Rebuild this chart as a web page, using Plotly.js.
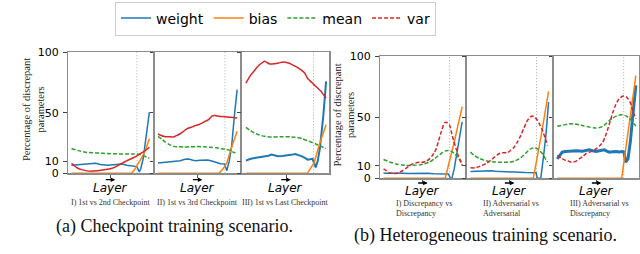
<!DOCTYPE html>
<html>
<head>
<meta charset="utf-8">
<script src="https://cdn.plot.ly/plotly-3.0.1.min.js"></script>
<style>html,body{margin:0;padding:0;background:#fff;}#chart{width:640px;height:254px;}</style>
</head>
<body>
<div id="chart"></div>
<script>
// ---------- DATA (percentage of discrepant parameters per layer) ----------
const seriesNames = ['weight', 'bias', 'mean', 'var'];
const yTickVals = [0, 10, 50, 100];
const yTickText = ['0', '10', '50', '100'];
const layerTickVals = [50];
const boundaries = [84, 84.6, 84.3, 84, 84.5, 84.5];

const panelLabels = [
  'I) 1st vs 2nd Checkpoint',
  'II) 1st vs 3rd Checkpoint',
  'III) 1st vs Last Checkpoint',
  'I) Discrepancy vs<br>Discrepancy',
  'II) Adversarial vs<br>Adversarial',
  'III) Adversarial vs<br>Discrepancy'
];
const captions = ['(a) Checkpoint training scenario.', '(b) Heterogeneous training scenario.'];
const yTitle = 'Percentage of discrepant<br>parameters';
const xTitle = 'Layer';

// (a) I) 1st vs 2nd checkpoint
const cp1_weight_x = [0, 7, 15, 24, 31, 37, 46, 54, 60, 65, 71, 77, 84, 87, 89, 92, 96, 100];
const cp1_weight_y = [6.6, 7.0, 7.1, 7.5, 8.3, 7.2, 6.6, 7.0, 7.5, 7.6, 6.6, 5.9, 5.5, 1.2, 4, 12, 31, 50.5];
const cp1_bias_x = [0, 77, 80, 84, 88, 92, 96, 100];
const cp1_bias_y = [0, 0, 2, 6, 11, 15, 21, 28.5];
const cp1_mean_x = [0, 10, 20, 30, 40, 50, 60, 70, 80, 88, 94, 100];
const cp1_mean_y = [20.3, 18.5, 17.2, 16.8, 16.5, 16.2, 16.0, 15.9, 16.0, 15.5, 14, 12.5];
const cp1_var_x = [0, 4, 8, 14, 20, 26, 33, 40, 46, 52, 57, 61, 66, 70, 75, 80, 85, 90, 95, 100];
const cp1_var_y = [8.2, 6, 4.2, 2.8, 2.0, 1.8, 2.2, 2.8, 3.4, 4.2, 5.5, 7, 8.6, 10, 11.5, 13, 14.8, 16.8, 18.8, 21.5];

// (a) II) 1st vs 3rd checkpoint
const cp2_weight_x = [0, 8, 15, 22, 28, 34, 39, 44, 48, 53, 58, 63, 69, 74, 79, 84, 87, 90, 93, 96.6, 100];
const cp2_weight_y = [8.5, 8.9, 9.3, 9.8, 10.4, 11.5, 11.8, 10.8, 10.4, 10.8, 11.2, 11.0, 9.9, 8.6, 7.9, 7.7, 2.2, 10, 22, 48, 69];
const cp2_bias_x = [0, 77, 82, 87, 92, 96, 100];
const cp2_bias_y = [0, 0, 3.5, 8.5, 19.5, 27, 34.6];
const cp2_mean_x = [0, 5, 9, 14, 20, 26, 32, 40, 50, 58, 67, 74, 80, 86, 92, 96, 100];
const cp2_mean_y = [30.5, 28, 25.8, 23.8, 22.2, 21.8, 21.7, 21.8, 22, 21.8, 21.4, 21, 20.3, 19.8, 18.7, 17.2, 15.9];
const cp2_var_x = [0, 4, 8, 14, 20, 24, 28, 32, 36, 40, 44, 48, 52, 56, 60, 64, 68, 72, 78, 84, 90, 95, 100];
const cp2_var_y = [32.4, 31.2, 30.4, 30.1, 30, 31.3, 32.6, 34.5, 36.5, 37.5, 38.5, 39.5, 40.2, 41.5, 43, 44.2, 47.2, 47.6, 46.8, 46.7, 46.3, 46.1, 45.6];

// (a) III) 1st vs last checkpoint
const cp3_weight_x = [0, 5, 10.6, 17, 23, 28, 32, 36, 40, 45, 51, 56, 61.7, 66, 70, 74, 77, 80, 83, 87, 89.5, 92.3, 96.6, 100];
const cp3_weight_y = [10.4, 11.8, 12.6, 13.2, 14, 14.5, 15.4, 14.6, 14, 14.2, 14.5, 15.2, 15.9, 15.0, 14, 12.5, 11.2, 11.5, 12, 4.9, 10, 20.8, 48, 75.8];
const cp3_bias_x = [0, 76.6, 80, 85, 91.5, 96, 100];
const cp3_bias_y = [0, 0, 3.5, 8.5, 23.6, 32, 40];
const cp3_mean_x = [0, 5, 10.6, 17, 23.4, 32, 40, 49, 56, 61.7, 70, 78.7, 87.2, 93.6, 100];
const cp3_mean_y = [37.9, 35.5, 33.2, 31.5, 30.5, 29.9, 30.1, 30.2, 30, 29.7, 28.6, 26.4, 24.2, 22.2, 20.3];
const cp3_var_x = [0, 6.4, 11, 15, 19, 23.4, 29.8, 36, 41, 46.8, 53, 57, 61.7, 66, 70, 73.5, 76.6, 80, 85, 89, 93.6, 97, 100];
const cp3_var_y = [74.4, 81.3, 85, 88.2, 90.5, 92.3, 90.1, 90.4, 91, 91.8, 90.9, 89.8, 88.2, 86.5, 84.6, 82.5, 78.6, 76.2, 73.1, 70.5, 67.6, 64.5, 62.1];

// (b) I) Discrepancy vs Discrepancy
const ht1_weight_x = [0, 8, 16, 24, 32, 40, 48, 56, 64, 72, 80, 82.5, 85, 87, 90, 93.3, 96, 100];
const ht1_weight_y = [4.0, 4.2, 3.9, 4.1, 3.8, 4.0, 3.8, 4.1, 3.7, 3.8, 3.6, 3.5, 0, 0, 8, 21.7, 32, 46];
const ht1_bias_x = [0, 78.4, 89, 100];
const ht1_bias_y = [0, 0, 27, 58.5];
const ht1_mean_x = [0, 8, 16, 24, 29, 36, 46, 52, 58.5, 64, 69, 74, 78, 82, 86, 90, 94.5, 100];
const ht1_mean_y = [15.3, 13.3, 11.7, 10.8, 10.4, 10.5, 10.9, 11.8, 13.1, 15.5, 18, 20.5, 22.2, 22.7, 22, 20.5, 17.2, 11.7];
const ht1_var_x = [0, 4, 7.6, 12, 16, 20, 24.6, 29, 33, 37, 41.5, 46, 50, 54, 58.5, 62, 65, 67, 70, 73.3, 76, 78, 81, 84, 86, 89, 92.4, 95, 98.7, 100];
const ht1_var_y = [7.7, 6, 4.4, 3.9, 3.8, 4.8, 6.3, 8.2, 10.4, 11.7, 12.6, 13.0, 13.1, 13.8, 15.8, 18.5, 21.5, 24, 30.5, 37.7, 43, 45.5, 45.4, 43.5, 38.5, 31, 24, 18.5, 13.1, 10.4];

// (b) II) Adversarial vs Adversarial
const ht2_weight_x = [0, 8, 19, 26, 32, 40, 49, 56, 62, 70, 77, 84, 85.5, 90, 93, 96.6, 100];
const ht2_weight_y = [5.5, 5.7, 6.3, 6.0, 5.7, 5.6, 5.5, 5.2, 4.9, 4.6, 4.4, 4.4, 0, 0, 15, 35, 62.3];
const ht2_bias_x = [0, 80.5, 90, 100];
const ht2_bias_y = [0, 0, 33, 71];
const ht2_mean_x = [0, 5, 10.7, 17, 23.6, 30, 36.5, 43, 49.4, 56, 62.2, 68, 73, 76, 79.4, 82.5, 85.8, 89, 92.3, 95.5, 98.7];
const ht2_mean_y = [21.3, 18.5, 16.4, 14.8, 13.7, 13.3, 13.1, 13.0, 13.1, 14, 15.8, 18.8, 21.9, 23.6, 24.6, 24.8, 24, 22.3, 20, 16.5, 13.1];
const ht2_var_x = [0, 6.4, 10, 15, 20, 25.8, 31, 36.5, 41, 47.2, 51, 55.8, 60, 64.4, 68, 73, 76, 79.4, 82.5, 85.8, 89, 92.3, 95.5, 98.7];
const ht2_var_y = [8.5, 8.5, 9.3, 10.4, 12, 14.5, 17.5, 20, 20.8, 20.8, 22.5, 25.4, 29.5, 35, 40.5, 47.3, 49.8, 50.8, 49.8, 47.3, 43.5, 39, 33, 26.8];

// (b) III) Adversarial vs Discrepancy
const ht3_weight_x = [0, 3, 6.4, 10, 15, 20, 25, 32, 36, 40.8, 45, 49.4, 55, 60, 63, 66.5, 70, 75, 79, 82.8, 85, 87, 90, 93, 95.7, 100];
const ht3_weight_y = [15.8, 18.8, 21.3, 21.8, 22.1, 21.8, 22.4, 22.1, 22.6, 23.2, 22.5, 21.9, 22.6, 23.2, 22.2, 21.3, 21.6, 21.9, 21.5, 21.9, 21.5, 13.1, 15.8, 30, 48.6, 76];
const ht3_bias_x = [0, 82, 91, 100];
const ht3_bias_y = [0, 0, 42, 84];
const ht3_mean_x = [0, 8, 15, 22, 28, 34, 40.8, 46, 49.4, 54, 58, 62, 66.5, 70, 75, 78, 81.5, 85, 88, 91, 94.4, 97, 100];
const ht3_mean_y = [42.6, 43.5, 44.5, 44.3, 43.7, 42.8, 41.8, 41.2, 41, 41.5, 42.6, 44.5, 47.3, 49, 50.8, 51.5, 51.9, 51.5, 50.8, 49.3, 47.3, 45, 42.6];
const ht3_var_x = [0, 5, 9, 12.9, 16, 19.3, 24, 28, 32, 36.5, 43, 49.4, 54, 58, 61, 64.4, 67.5, 70.8, 74, 77.3, 80.5, 83.7, 87, 90, 93.5, 96.6, 100];
const ht3_var_y = [18.6, 16.5, 15, 14.5, 13.5, 13.1, 14, 15.8, 17.5, 20, 21.8, 24, 26.5, 29.5, 34, 40.4, 47, 54, 59.5, 63.7, 66, 67.2, 66.8, 65, 61, 54, 48.6];

// ---------- STYLE / LAYOUT ----------
const W = 640, H = 254;
const colors = {weight: '#1f77b4', bias: '#ff7f0e', mean: '#2ca02c', var: '#d62728'};
const DASH = '4px,2px';
// var is drawn solid in the checkpoint panels, dashed in the heterogeneous ones
const varDash = ['solid', 'solid', 'solid', DASH, DASH, DASH];
const weightWidths = [1.5, 1.5, 2, 1.5, 1.5, 3];

const panelData = [
  [[cp1_weight_x, cp1_weight_y], [cp1_bias_x, cp1_bias_y], [cp1_mean_x, cp1_mean_y], [cp1_var_x, cp1_var_y]],
  [[cp2_weight_x, cp2_weight_y], [cp2_bias_x, cp2_bias_y], [cp2_mean_x, cp2_mean_y], [cp2_var_x, cp2_var_y]],
  [[cp3_weight_x, cp3_weight_y], [cp3_bias_x, cp3_bias_y], [cp3_mean_x, cp3_mean_y], [cp3_var_x, cp3_var_y]],
  [[ht1_weight_x, ht1_weight_y], [ht1_bias_x, ht1_bias_y], [ht1_mean_x, ht1_mean_y], [ht1_var_x, ht1_var_y]],
  [[ht2_weight_x, ht2_weight_y], [ht2_bias_x, ht2_bias_y], [ht2_mean_x, ht2_mean_y], [ht2_var_x, ht2_var_y]],
  [[ht3_weight_x, ht3_weight_y], [ht3_bias_x, ht3_bias_y], [ht3_mean_x, ht3_mean_y], [ht3_var_x, ht3_var_y]]
];

// panel pixel boxes [x0, x1, yTop, yBottom]
const boxes = [
  [68, 152.5, 52, 173.3], [154.5, 240.3, 52, 173.3], [242.3, 329.3, 52, 173.3],
  [380, 465.3, 56, 178.2], [467, 551.7, 56, 178.2], [553.7, 639, 56, 178.2]
];
const px = v => v / W, py = v => 1 - v / H;

const traces = [];
const layout = {
  width: W, height: H,
  margin: {l: 0, r: 0, t: 0, b: 0, pad: 0},
  paper_bgcolor: '#fff', plot_bgcolor: '#fff',
  font: {family: 'DejaVu Sans', size: 11, color: '#000'},
  showlegend: true,
  legend: {
    orientation: 'h', x: px(115), y: py(1.5), xanchor: 'left', yanchor: 'top',
    bgcolor: '#fff', bordercolor: '#cccccc', borderwidth: 1,
    font: {family: 'DejaVu Sans', size: 14, color: '#000'},
    itemwidth: 30, traceorder: 'normal'
  },
  shapes: [], annotations: []
};

panelData.forEach((series, i) => {
  const n = i + 1;
  const xk = n === 1 ? 'x' : 'x' + n;
  const yk = n === 1 ? 'y' : 'y' + n;
  const b = boxes[i];
  series.forEach((s, j) => {
    const name = seriesNames[j];
    const smooth = (name === 'mean' || name === 'var');
    const dash = name === 'mean' ? DASH : (name === 'var' ? varDash[i] : 'solid');
    traces.push({
      type: 'scatter', mode: 'lines', x: s[0], y: s[1], name: name,
      xaxis: xk, yaxis: yk, legendgroup: name, showlegend: false,
      line: {color: colors[name], dash: dash,
             width: name === 'weight' ? weightWidths[i] : 1.5,
             shape: smooth ? 'spline' : 'linear', smoothing: 0.6},
      hoverinfo: 'skip'
    });
  });
  const firstInGroup = (i === 0 || i === 3);
  layout['xaxis' + (n === 1 ? '' : n)] = {
    domain: [px(b[0]), px(b[1])], anchor: yk, range: [-4.5, 104],
    showline: true, mirror: true, linecolor: '#8c8c8c', linewidth: 1.5,
    showgrid: false, zeroline: false, ticks: 'outside', ticklen: 3, tickwidth: 1,
    tickcolor: '#555', tickvals: layerTickVals, showticklabels: false, fixedrange: true
  };
  layout['yaxis' + (n === 1 ? '' : n)] = {
    domain: [py(b[3]), py(b[2])], anchor: xk, range: [0, 100],
    showline: true, mirror: true, linecolor: '#8c8c8c', linewidth: 1.5,
    showgrid: false, zeroline: false, ticks: 'outside', ticklen: 3.5, tickwidth: 1,
    tickcolor: '#444', tickvals: yTickVals, ticktext: yTickText,
    showticklabels: firstInGroup, ticklabelstandoff: 2,
    tickfont: {family: 'DejaVu Sans', size: 11, color: '#000'}, fixedrange: true
  };
  layout.shapes.push({
    type: 'line', xref: xk, yref: yk, x0: boundaries[i], x1: boundaries[i], y0: 0, y1: 100,
    line: {color: '#aaaaaa', width: 1, dash: '1px,2px'}, layer: 'below'
  });
  const cx = (b[0] + b[1]) / 2;
  const left = i < 3;
  // the rightward arrow above "Layer"
  layout.annotations.push({
    xref: 'paper', yref: 'paper', x: px(cx + 5), y: py(left ? 179.7 : 183),
    text: '', showarrow: true, ax: -11, ay: 0, arrowhead: 2, arrowsize: 0.7, arrowwidth: 1.3,
    arrowcolor: '#000', standoff: 0, startstandoff: 0
  });
  layout.annotations.push({
    xref: 'paper', yref: 'paper', x: px(cx), y: py(left ? 188 : 191), xanchor: 'center', yanchor: 'middle',
    text: xTitle, showarrow: false, font: {family: 'DejaVu Sans', size: 12, color: '#000', style: 'italic'}
  });
  if (left) {
    layout.annotations.push({
      xref: 'paper', yref: 'paper', x: px(cx), y: py(202.5), xanchor: 'center', yanchor: 'middle',
      text: panelLabels[i], showarrow: false, font: {family: 'Liberation Serif', size: 8, color: '#333'}
    });
  } else {
    layout.annotations.push({
      xref: 'paper', yref: 'paper', x: px(b[0] + 14), y: py(208.6), xanchor: 'left', yanchor: 'middle',
      align: 'left', text: panelLabels[i], showarrow: false,
      font: {family: 'Liberation Serif', size: 8, color: '#333'}
    });
  }
});

// legend entries (one per series, drawn by the library's legend)
seriesNames.forEach(name => {
  traces.push({
    type: 'scatter', mode: 'lines', x: [null], y: [null], name: name, xaxis: 'x', yaxis: 'y',
    legendgroup: name, showlegend: true, hoverinfo: 'skip',
    line: {color: colors[name], width: 1.5, dash: (name === 'mean' || name === 'var') ? DASH : 'solid'}
  });
});

// y titles
[[33, 110], [343.5, 115]].forEach(p => {
  layout.annotations.push({
    xref: 'paper', yref: 'paper', x: px(p[0]), y: py(p[1]), xanchor: 'center', yanchor: 'middle',
    text: yTitle, textangle: -90, showarrow: false,
    font: {family: 'Liberation Serif', size: 10.5, color: '#222'}
  });
});
// captions
[[174, 226], [485.5, 235]].forEach((p, k) => {
  layout.annotations.push({
    xref: 'paper', yref: 'paper', x: px(p[0]), y: py(p[1]), xanchor: 'center', yanchor: 'middle',
    text: captions[k], showarrow: false,
    font: {family: 'Liberation Serif', size: 18, color: '#111'}
  });
});

Plotly.newPlot('chart', traces, layout, {staticPlot: true, displayModeBar: false});
</script>
</body>
</html>
